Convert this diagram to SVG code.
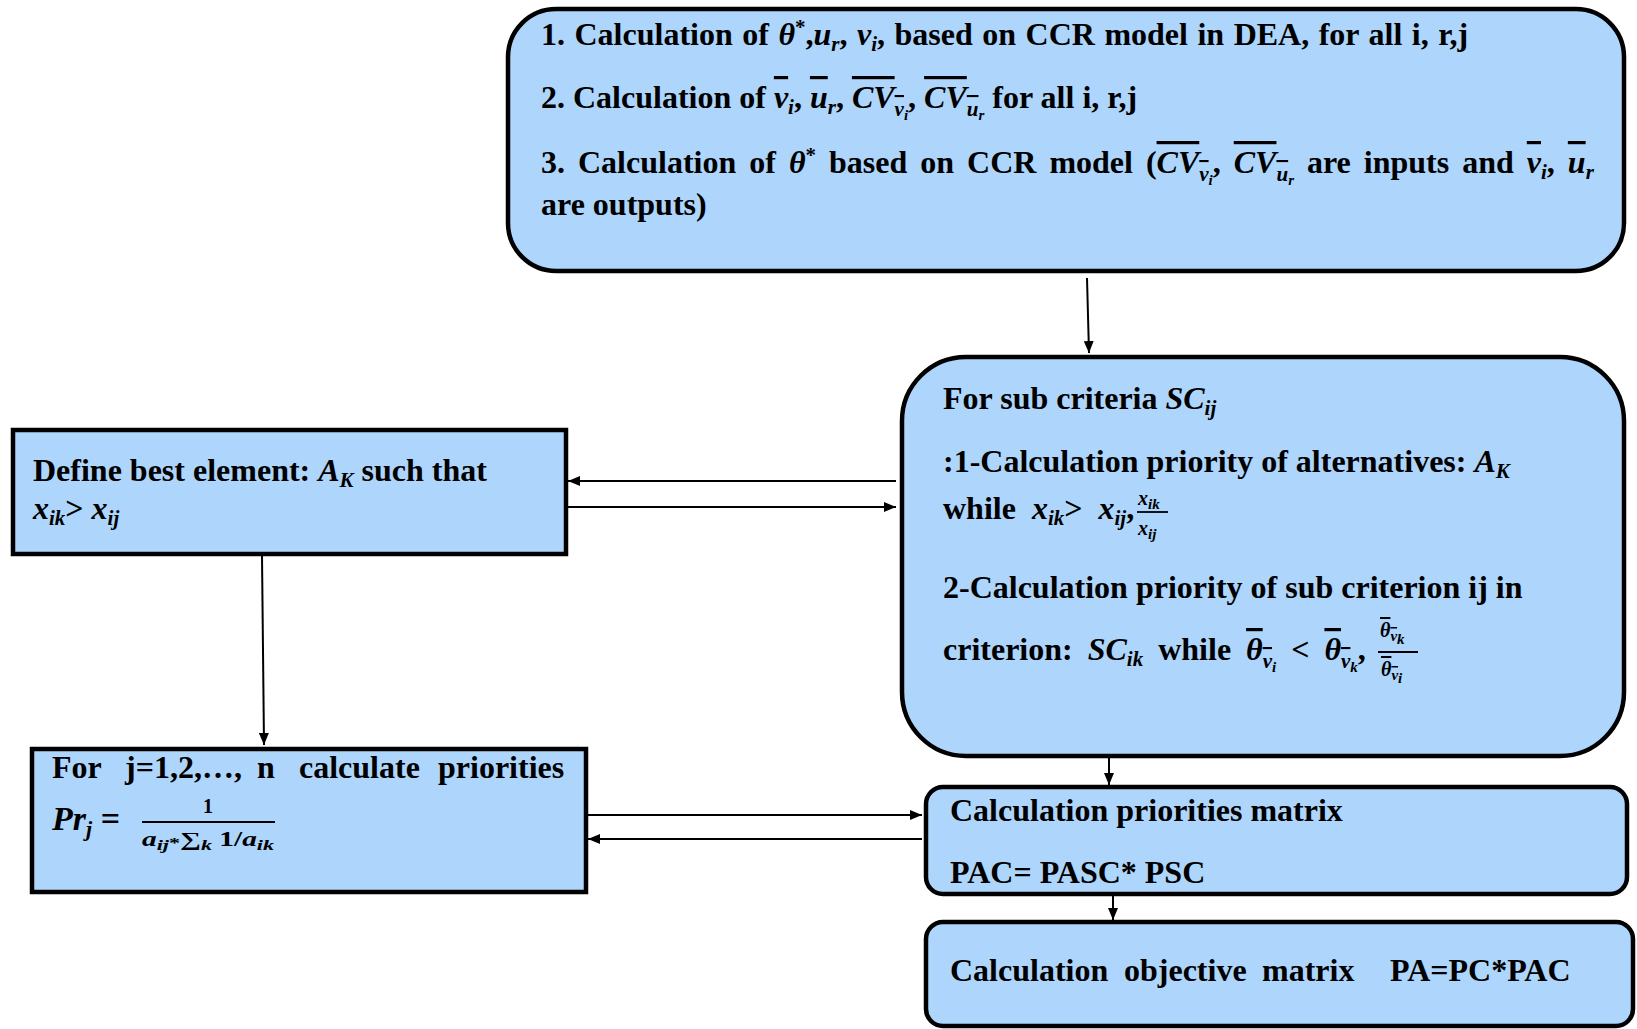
<svg xmlns="http://www.w3.org/2000/svg" width="1637" height="1029" viewBox="0 0 1637 1029">
<defs>
<style>
.box{fill:#aed5fb;stroke:#000;stroke-width:4.5}
.t{font-family:"Liberation Serif","Times New Roman",serif;font-weight:bold;font-size:32px;fill:#000}
.m{font-style:italic}
.s{font-size:21px}
.ss{font-size:15px}
.f{font-size:20px}
.ov{text-decoration:overline}
.c{stroke:#000;stroke-width:2;fill:none}
.fl{stroke:#000;stroke-width:1.8}
</style>
<marker id="ah" viewBox="0 0 12 10" refX="12" refY="5" markerWidth="12" markerHeight="10" markerUnits="userSpaceOnUse" orient="auto">
<path d="M0,0 L12,5 L0,10 Z" fill="#000"/>
</marker>
</defs>
<rect width="1637" height="1029" fill="#fff"/>

<g id="connectors">
<line class="c" x1="1087" y1="278" x2="1089" y2="353" marker-end="url(#ah)"/>
<line class="c" x1="896" y1="481" x2="568" y2="481" marker-end="url(#ah)"/>
<line class="c" x1="568" y1="507" x2="896" y2="507" marker-end="url(#ah)"/>
<line class="c" x1="262" y1="556" x2="264" y2="745" marker-end="url(#ah)"/>
<line class="c" x1="588" y1="815" x2="922" y2="815" marker-end="url(#ah)"/>
<line class="c" x1="922" y1="839" x2="588" y2="839" marker-end="url(#ah)"/>
<line class="c" x1="1109" y1="758" x2="1109" y2="785" marker-end="url(#ah)"/>
<line class="c" x1="1113" y1="896" x2="1113" y2="920" marker-end="url(#ah)"/>
</g>

<g id="node-dea">
<rect class="box" x="508" y="9" width="1116" height="262" rx="48" ry="48"/>
<text class="t" x="541" y="45" style="word-spacing:1.5px">1. Calculation of <tspan class="m">θ</tspan><tspan class="s" dy="-11">*</tspan><tspan dy="11">,</tspan><tspan class="m">u</tspan><tspan class="s m" dy="6">r</tspan><tspan dy="-6">, </tspan><tspan class="m">v</tspan><tspan class="s m" dy="6">i</tspan><tspan dy="-6">, based on CCR model in DEA, for all i, r,j</tspan></text>
<text class="t" x="541" y="108">2. Calculation of <tspan class="m ov">v</tspan><tspan class="s m" dy="6">i</tspan><tspan dy="-6">, </tspan><tspan class="m ov">u</tspan><tspan class="s m" dy="6">r</tspan><tspan dy="-6">, </tspan><tspan class="m ov">CV</tspan><tspan class="s m ov" dy="8">v</tspan><tspan class="ss m" dy="4">i</tspan><tspan dy="-12">, </tspan><tspan class="m ov">CV</tspan><tspan class="s m ov" dy="8">u</tspan><tspan class="ss m" dy="4">r</tspan><tspan dy="-12"> for all i, r,j</tspan></text>
<text class="t" x="541" y="173" style="word-spacing:5px">3. Calculation of <tspan class="m">θ</tspan><tspan class="s" dy="-11">*</tspan><tspan dy="11"> based on CCR model (</tspan><tspan class="m ov">CV</tspan><tspan class="s m ov" dy="8">v</tspan><tspan class="ss m" dy="4">i</tspan><tspan dy="-12">, </tspan><tspan class="m ov">CV</tspan><tspan class="s m ov" dy="8">u</tspan><tspan class="ss m" dy="4">r</tspan><tspan dy="-12"> are inputs and </tspan><tspan class="m ov">v</tspan><tspan class="s m" dy="6">i</tspan><tspan dy="-6">, </tspan><tspan class="m ov">u</tspan><tspan class="s m" dy="6">r</tspan></text>
<text class="t" x="541" y="215">are outputs)</text>
</g>

<g id="node-subcriteria">
<rect class="box" x="902" y="357" width="722" height="399" rx="64" ry="64"/>
<text class="t" x="943" y="409">For sub criteria <tspan class="m">SC</tspan><tspan class="s m" dy="6">ij</tspan></text>
<text class="t" x="943" y="472">:1-Calculation priority of alternatives: <tspan class="m">A</tspan><tspan class="s m" dy="6">K</tspan></text>
<text class="t" x="943" y="519" style="word-spacing:8px">while <tspan class="m">x</tspan><tspan class="s m" dy="6">ik</tspan><tspan dy="-6">&gt; </tspan><tspan class="m">x</tspan><tspan class="s m" dy="6">ij</tspan><tspan dy="-6">,</tspan></text>
<text class="t" x="1138" y="505"><tspan class="f m">x</tspan><tspan class="ss m" dy="4">ik</tspan></text>
<line class="fl" x1="1137" y1="512" x2="1168" y2="512"/>
<text class="t" x="1138" y="535"><tspan class="f m">x</tspan><tspan class="ss m" dy="4">ij</tspan></text>
<text class="t" x="943" y="598">2-Calculation priority of sub criterion ij in</text>
<text class="t" x="943" y="660" style="word-spacing:7px">criterion: <tspan class="m">SC</tspan><tspan class="s m" dy="6">ik</tspan><tspan dy="-6"> while </tspan><tspan class="m ov">θ</tspan><tspan class="s m ov" dy="8">v</tspan><tspan class="ss m" dy="4">i</tspan><tspan dy="-12"> &lt; </tspan><tspan class="m ov">θ</tspan><tspan class="s m ov" dy="8">v</tspan><tspan class="ss m" dy="4">k</tspan><tspan dy="-12">,</tspan></text>
<text class="t" x="1380" y="637"><tspan class="f m ov">θ</tspan><tspan class="ss m ov" dy="4">v</tspan><tspan class="ss m" dy="3">k</tspan></text>
<line class="fl" x1="1378" y1="652" x2="1418" y2="652"/>
<text class="t" x="1381" y="676"><tspan class="f m ov">θ</tspan><tspan class="ss m ov" dy="4">v</tspan><tspan class="ss m" dy="3">i</tspan></text>
</g>

<g id="node-best">
<rect class="box" x="13" y="430" width="553" height="124" stroke-width="5"/>
<text class="t" x="33" y="481">Define best element: <tspan class="m">A</tspan><tspan class="s m" dy="6">K</tspan><tspan dy="-6"> such that</tspan></text>
<text class="t" x="33" y="519"><tspan class="m">x</tspan><tspan class="s m" dy="6">ik</tspan><tspan dy="-6">&gt; </tspan><tspan class="m">x</tspan><tspan class="s m" dy="6">ij</tspan></text>
</g>

<g id="node-priorities">
<rect class="box" x="32" y="749" width="554" height="143" stroke-width="5"/>
<text class="t" y="778"><tspan x="52">For</tspan><tspan x="125">j=1,2,…,</tspan><tspan x="257">n</tspan><tspan x="299">calculate</tspan><tspan x="438">priorities</tspan></text>
<text class="t" x="52" y="830" style="font-size:34px"><tspan class="m">Pr</tspan><tspan class="m" style="font-size:22px" dy="6">j</tspan><tspan dy="-6"> =</tspan></text>
<text class="t f" x="203" y="813">1</text>
<line class="fl" x1="142" y1="822" x2="275" y2="822"/>
<text class="t" x="142" y="846" textLength="132" lengthAdjust="spacingAndGlyphs"><tspan class="f m">a</tspan><tspan class="ss m" dy="4">ij</tspan><tspan class="ss" dy="-2">*</tspan><tspan class="f" dy="-2">∑</tspan><tspan class="ss m" dy="4">k</tspan><tspan class="f" dy="-4"> 1/</tspan><tspan class="f m">a</tspan><tspan class="ss m" dy="4">ik</tspan></text>
</g>

<g id="node-matrix">
<rect class="box" x="926" y="787" width="701" height="107" rx="17" ry="17"/>
<text class="t" x="950" y="821">Calculation priorities matrix</text>
<text class="t" x="950" y="883">PAC= PASC* PSC</text>
</g>

<g id="node-objective">
<rect class="box" x="926" y="922" width="707" height="104" rx="17" ry="17"/>
<text class="t" y="981"><tspan x="950">Calculation</tspan><tspan x="1124">objective</tspan><tspan x="1262">matrix</tspan><tspan x="1390">PA=PC*PAC</tspan></text>
</g>
</svg>
